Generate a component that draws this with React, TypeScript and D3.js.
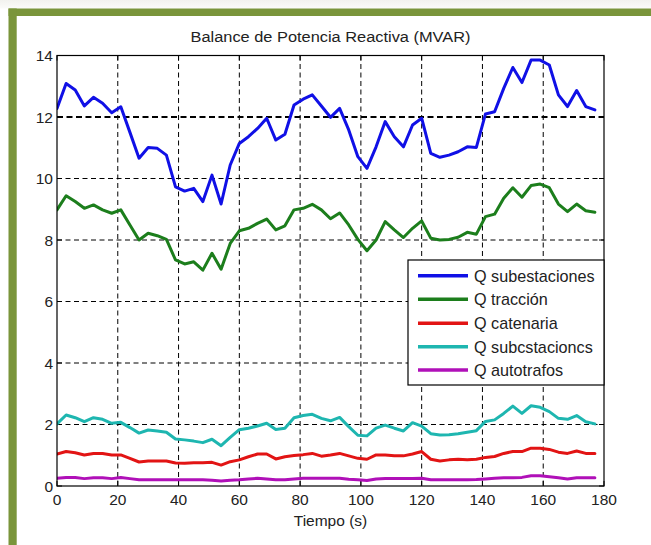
import React from "react";
import * as d3 from "d3";

// Sample times (s)
const TIME = [
  0, 3, 6, 9, 12, 15, 18, 21, 24, 27, 30, 33, 36, 39, 42, 45, 48, 51, 54, 57,
  60, 63, 66, 69, 72, 75, 78, 81, 84, 87, 90, 93, 96, 99, 102, 105, 108, 111, 114, 117,
  120, 123, 126, 129, 132, 135, 138, 141, 144, 147, 150, 153, 156, 159, 162, 165, 168, 171, 174, 177,
];

// Reactive power per source (MVAR)
const Q_SUBESTACIONES = [
  12.28, 13.09, 12.88, 12.36, 12.64, 12.45, 12.14, 12.33, 11.5, 10.66, 11.01, 10.98, 10.76, 9.73, 9.59, 9.68, 9.25, 10.11, 9.17, 10.44,
  11.14, 11.36, 11.63, 11.96, 11.25, 11.44, 12.39, 12.58, 12.72, 12.36, 11.99, 12.28, 11.58, 10.71, 10.33, 11.03, 11.85, 11.36, 11.03, 11.74,
  11.96, 10.82, 10.69, 10.76, 10.87, 11.03, 11.01, 12.1, 12.17, 12.93, 13.61, 13.12, 13.85, 13.85, 13.69, 12.72, 12.34, 12.86, 12.34, 12.23,
];
const Q_TRACCION = [
  8.98, 9.44, 9.25, 9.03, 9.14, 8.98, 8.87, 8.98, 8.49, 8.0, 8.22, 8.14, 8.02, 7.35, 7.22, 7.29, 7.02, 7.57, 7.05, 7.89,
  8.3, 8.38, 8.54, 8.68, 8.33, 8.46, 8.98, 9.03, 9.16, 8.98, 8.69, 8.88, 8.49, 8.02, 7.65, 8.0, 8.6, 8.33, 8.08, 8.38,
  8.62, 8.06, 8.0, 8.02, 8.09, 8.25, 8.19, 8.76, 8.84, 9.36, 9.7, 9.39, 9.77, 9.82, 9.7, 9.17, 8.92, 9.17, 8.95, 8.9,
];
const Q_CATENARIA = [
  1.04, 1.12, 1.08, 1.01, 1.06, 1.06, 1.01, 1.01, 0.9, 0.78, 0.81, 0.81, 0.81, 0.75, 0.74, 0.76, 0.76, 0.77, 0.68, 0.79,
  0.85, 0.95, 1.04, 1.04, 0.88, 0.95, 0.99, 1.02, 1.06, 0.97, 1.01, 1.06, 0.98, 0.9, 0.87, 1.01, 1.01, 0.98, 0.98, 1.04,
  1.12, 0.87, 0.81, 0.85, 0.87, 0.85, 0.87, 0.93, 0.96, 1.06, 1.12, 1.12, 1.23, 1.23, 1.19, 1.1, 1.06, 1.14, 1.06, 1.06,
];
const Q_SUBESTACIONES_2 = [
  2.02, 2.31, 2.22, 2.09, 2.22, 2.17, 2.04, 2.07, 1.9, 1.72, 1.82, 1.79, 1.75, 1.53, 1.5, 1.46, 1.41, 1.52, 1.31, 1.58,
  1.83, 1.88, 1.95, 2.04, 1.84, 1.88, 2.22, 2.29, 2.33, 2.2, 2.12, 2.23, 1.93, 1.65, 1.63, 1.88, 1.98, 1.88, 1.79, 2.06,
  1.95, 1.7, 1.66, 1.67, 1.7, 1.75, 1.8, 2.1, 2.15, 2.36, 2.6, 2.36, 2.61, 2.56, 2.42, 2.2, 2.17, 2.29, 2.09, 2.02,
];
const Q_AUTOTRAFOS = [
  0.25, 0.28, 0.28, 0.24, 0.27, 0.27, 0.24, 0.28, 0.24, 0.2, 0.2, 0.2, 0.2, 0.2, 0.2, 0.2, 0.2, 0.19, 0.16, 0.19,
  0.2, 0.23, 0.25, 0.23, 0.2, 0.2, 0.23, 0.25, 0.25, 0.25, 0.25, 0.25, 0.22, 0.2, 0.18, 0.23, 0.24, 0.24, 0.24, 0.24,
  0.25, 0.2, 0.2, 0.2, 0.2, 0.2, 0.21, 0.23, 0.25, 0.27, 0.27, 0.28, 0.33, 0.33, 0.3, 0.27, 0.23, 0.27, 0.27, 0.27,
];

const SERIES_NAMES = [
  "Q subestaciones",
  "Q tracción",
  "Q catenaria",
  "Q subcstacioncs",
  "Q autotrafos",
];
const SERIES_VALUES = [Q_SUBESTACIONES, Q_TRACCION, Q_CATENARIA, Q_SUBESTACIONES_2, Q_AUTOTRAFOS];
const SERIES_COLORS = ["#1010e6", "#1c7e1c", "#e21414", "#1eb6b0", "#b010b8"];

const X_TICKS = [0, 20, 40, 60, 80, 100, 120, 140, 160, 180];
const Y_TICKS = [0, 2, 4, 6, 8, 10, 12, 14];

const TITLE = "Balance de Potencia Reactiva (MVAR)";
const X_LABEL = "Tiempo (s)";

const W = 651;
const H = 545;
const FONT = "'Liberation Sans', Arial, Helvetica, sans-serif";

export default function App() {
  const left = 57;
  const right = 604;
  const top = 55.5;
  const bottom = 486;

  const x = d3.scaleLinear().domain([0, 180]).range([left, right]);
  const y = d3.scaleLinear().domain([0, 14]).range([bottom, top]);

  const line = d3
    .line<number>()
    .x((_, i) => x(TIME[i]))
    .y((d) => y(d));

  const legend = { x0: 408, x1: 604, y0: 260, y1: 385 };
  const rowY = [275.7, 299.3, 323.3, 346.7, 370];

  return (
    <svg
      width={W}
      height={H}
      viewBox={`0 0 ${W} ${H}`}
      style={{ position: "absolute", left: 0, top: 0, background: "#fff" }}
    >
      <defs>
        <linearGradient id="topShade" x1="0" y1="0" x2="0" y2="1">
          <stop offset="0" stopColor="#f2f2ee" />
          <stop offset="1" stopColor="#fbfbf9" />
        </linearGradient>
        <clipPath id="plotClip">
          <rect x={left} y={top - 2} width={right - left} height={bottom - top + 2} />
        </clipPath>
      </defs>

      {/* page and green frame */}
      <rect x={0} y={0} width={W} height={H} fill="#fff" />
      <rect x={0} y={0} width={W} height={8.5} fill="url(#topShade)" />
      <rect x={8.5} y={8.5} width={W - 8.5} height={7.5} fill="#7a953b" />
      <rect x={8.5} y={8.5} width={8.2} height={H - 8.5} fill="#7a953b" />

      {/* title */}
      <text
        x={(left + right) / 2}
        y={42}
        textAnchor="middle"
        fontFamily={FONT}
        fontSize={14}
        fill="#222"
        textLength={280}
        lengthAdjust="spacingAndGlyphs"
      >
        {TITLE}
      </text>

      {/* grid */}
      {X_TICKS.filter((t) => t > 0 && t < 180).map((t) => (
        <line
          key={`gx${t}`}
          x1={x(t)}
          x2={x(t)}
          y1={top}
          y2={bottom}
          stroke="#000"
          strokeWidth={1}
          strokeDasharray="5,3.5"
        />
      ))}
      {Y_TICKS.filter((t) => t > 0 && t < 14).map((t) => (
        <line
          key={`gy${t}`}
          x1={left}
          x2={right}
          y1={y(t)}
          y2={y(t)}
          stroke="#000"
          strokeWidth={t === 12 ? 2 : 1}
          strokeDasharray={t === 12 ? "6,3.5" : "5,3.5"}
        />
      ))}

      {/* tick marks */}
      {X_TICKS.map((t) => (
        <g key={`tx${t}`}>
          <line x1={x(t)} x2={x(t)} y1={bottom} y2={bottom - 5} stroke="#000" />
          <line x1={x(t)} x2={x(t)} y1={top} y2={top + 5} stroke="#000" />
        </g>
      ))}
      {Y_TICKS.map((t) => (
        <g key={`ty${t}`}>
          <line x1={left} x2={left + 5} y1={y(t)} y2={y(t)} stroke="#000" />
          <line x1={right} x2={right - 5} y1={y(t)} y2={y(t)} stroke="#000" />
        </g>
      ))}

      {/* series */}
      <g clipPath="url(#plotClip)">
        {SERIES_VALUES.map((vals, i) => (
          <path
            key={SERIES_NAMES[i] + i}
            d={line(vals) || ""}
            fill="none"
            stroke={SERIES_COLORS[i]}
            strokeWidth={3}
            strokeLinejoin="round"
            strokeLinecap="round"
          />
        ))}
      </g>

      {/* axes box */}
      <rect
        x={left}
        y={top}
        width={right - left}
        height={bottom - top}
        fill="none"
        stroke="#000"
        strokeWidth={1.2}
      />

      {/* tick labels */}
      {Y_TICKS.map((t) => (
        <text
          key={`ly${t}`}
          x={left - 4}
          y={y(t)}
          dy="0.36em"
          textAnchor="end"
          fontFamily={FONT}
          fontSize={15.5}
          fill="#222"
        >
          {t}
        </text>
      ))}
      {X_TICKS.map((t) => (
        <text
          key={`lx${t}`}
          x={x(t)}
          y={505}
          textAnchor="middle"
          fontFamily={FONT}
          fontSize={15.5}
          fill="#222"
        >
          {t}
        </text>
      ))}
      <text
        x={(left + right) / 2}
        y={526}
        textAnchor="middle"
        fontFamily={FONT}
        fontSize={15.5}
        fill="#222"
      >
        {X_LABEL}
      </text>

      {/* legend */}
      <rect
        x={legend.x0}
        y={legend.y0}
        width={legend.x1 - legend.x0}
        height={legend.y1 - legend.y0}
        fill="#fff"
        stroke="#000"
        strokeWidth={1.2}
      />
      {SERIES_NAMES.map((name, i) => (
        <g key={`lg${i}`}>
          <line
            x1={418}
            x2={468}
            y1={rowY[i]}
            y2={rowY[i]}
            stroke={SERIES_COLORS[i]}
            strokeWidth={3.5}
          />
          <text
            x={474}
            y={rowY[i]}
            dy="0.36em"
            fontFamily={FONT}
            fontSize={16.2}
            fill="#222"
          >
            {name}
          </text>
        </g>
      ))}
    </svg>
  );
}
